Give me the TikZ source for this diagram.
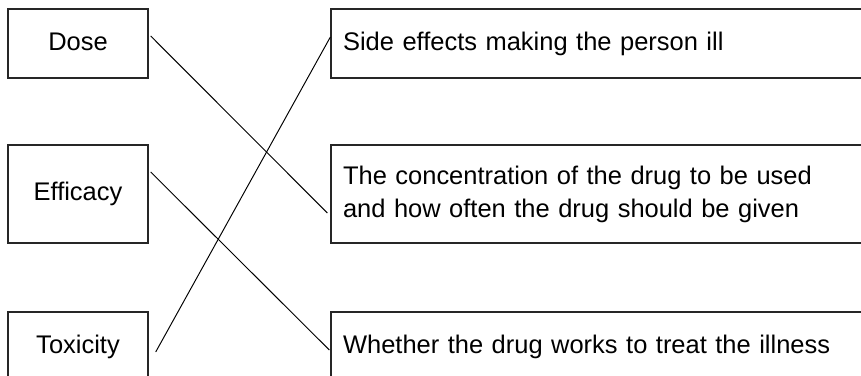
\documentclass[tikz,border=0pt]{standalone}
\usepackage{fontspec}
\setmainfont{Liberation Sans}
\usetikzlibrary{positioning,calc}

\begin{document}
\begin{tikzpicture}[
    x=0.02cm,
    y=-0.02cm,
    every node/.style={
        rectangle,
        draw=black!85,
        line width=0.8pt,
        font=\fontsize{14.5pt}{18.8pt}\selectfont
    },
    term/.style={
        minimum width=2.8cm,
        minimum height=1.38cm,
        text height=0.9em,
        text depth=0.15em,
        align=center
    },
    meaning/.style={
        minimum height=1.38cm,
        inner xsep=0.24cm,
        text width=10.9cm,
        align=left
    },
    link/.style={draw=black, line width=0.55pt}
]
\useasboundingbox (0,0) rectangle (861,375);
\clip (0,0) rectangle (861,375);

% -------- Terms --------
\node[term] (dose) at (78,43.5) {Dose};
\node[term, minimum height=1.96cm] (efficacy) at (78,194) {Efficacy};
\node[term] (toxicity) at (78,346.5) {Toxicity};

% -------- Meanings --------
\node[meaning] (side) at (615.5,43.5) {Side effects making the person ill};
\node[meaning, minimum height=1.96cm] (conc) at (615.5,194)
    {The concentration of the drug to be used\\and how often the drug should be given};
\node[meaning] (whether) at (615.5,346.5) {Whether the drug works to treat the illness};

% -------- Matching lines --------
\draw[link] ($(dose.east)+(2,-7.5)$) -- ($(conc.west)+(-3,19)$);
\draw[link] ($(side.west)+(0,-6.5)$) -- ($(toxicity.east)+(7,5.5)$);
\draw[link] ($(efficacy.east)+(2,-22)$) -- ($(whether.west)+(-1,3.5)$);

\end{tikzpicture}
\end{document}
